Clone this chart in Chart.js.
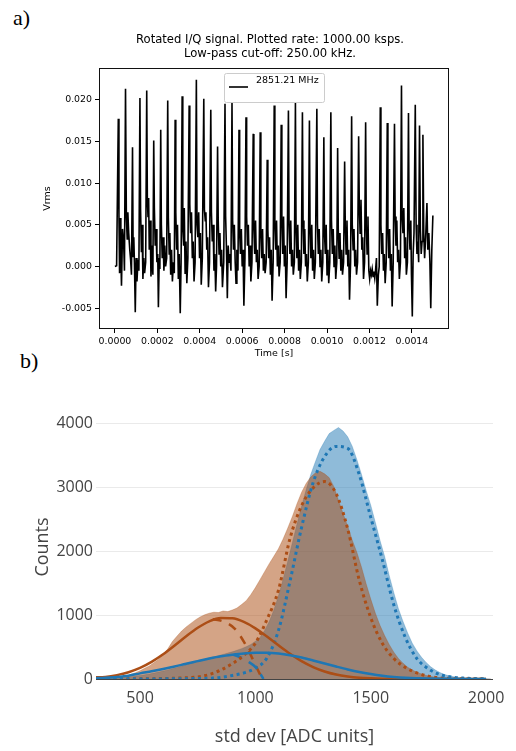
<!DOCTYPE html>
<html><head><meta charset="utf-8">
<script src="https://cdn.jsdelivr.net/npm/chart.js@4.4.1/dist/chart.umd.min.js"></script>
<style>
html,body{margin:0;padding:0;background:#fff;width:516px;height:751px;overflow:hidden;}
canvas{position:absolute;left:0;}
#ca{top:0;} #cb{top:375px;}
.lab{position:absolute;font-family:"Liberation Serif",serif;font-size:22px;color:#000;line-height:1;}
</style></head>
<body>
<div class="lab" style="left:13px;top:7px;">a)</div>
<div class="lab" style="left:20px;top:350px;">b)</div>
<canvas id="ca" width="516" height="375"></canvas>
<canvas id="cb" width="516" height="376"></canvas>
<script>
// ---------- Panel a data ----------
const titleA = ["Rotated I/Q signal. Plotted rate: 1000.00 ksps.", "Low-pass cut-off: 250.00 kHz."];
const legendA = "2851.21 MHz";
const xTitleA = "Time [s]";
const yTitleA = "Vrms";
const xTicksA = [0, 0.0002, 0.0004, 0.0006, 0.0008, 0.0010, 0.0012, 0.0014];
const yTicksA = [-0.005, 0, 0.005, 0.010, 0.015, 0.020];
const sigTimeUs = [0,8,16,19,22,25,28,31,36,41,45,50,54,58,61,65,70,74,78,83,86,89,92,96,100,104,109,113,118,121,125,128,132,136,140,145,150,153,156,159,162,166,170,175,179,183,186,190,194,198,202,205,209,212,216,219,223,227,231,235,239,244,249,252,256,259,263,267,271,276,280,284,287,291,295,299,303,308,312,317,320,324,327,331,335,339,344,350,353,357,361,365,369,373,378,384,387,391,395,399,403,407,412,419,422,426,429,433,437,441,446,452,455,459,463,467,471,475,479,484,487,491,495,499,503,507,513,519,522,526,530,534,538,542,547,552,555,559,563,567,571,575,580,585,588,592,596,600,604,608,613,618,621,625,629,633,637,641,646,652,655,659,663,667,671,675,680,685,688,692,696,700,704,708,713,718,721,725,729,733,737,741,746,751,754,758,762,766,770,774,779,784,787,791,795,799,803,807,812,818,821,825,829,833,837,841,846,851,854,858,862,866,870,874,879,884,887,891,895,899,903,907,912,917,920,924,928,932,936,940,945,952,955,959,963,967,971,975,980,985,988,992,996,1000,1004,1008,1013,1018,1021,1025,1029,1033,1037,1041,1046,1050,1053,1057,1061,1065,1069,1073,1078,1083,1086,1090,1094,1098,1102,1106,1111,1116,1119,1123,1127,1131,1135,1139,1144,1149,1152,1156,1160,1164,1168,1172,1177,1182,1185,1189,1193,1197,1201,1205,1209,1213,1217,1221,1225,1229,1233,1237,1242,1246,1251,1254,1258,1262,1266,1270,1274,1279,1284,1287,1291,1295,1299,1303,1307,1312,1318,1321,1325,1329,1333,1337,1341,1346,1351,1354,1358,1362,1366,1370,1374,1379,1384,1387,1391,1395,1398,1402,1406,1410,1416,1420,1424,1428,1432,1436,1440,1444,1448,1452,1456,1460,1465,1471,1475,1480,1485,1489,1494,1499];
const sigMv = [0,0.1,17.7,6.3,-0.8,5.8,1.2,-2.3,4.5,3.0,-0.5,21.3,5.9,3.3,6.5,4.0,2.0,0.8,-1.0,14.3,1.2,3.5,0.5,-5.5,1.0,-1.8,0.8,-0.5,20.2,6.8,1.7,5.0,-1.5,1.0,-0.8,0.5,21.1,8.0,6.0,8.2,2.0,5.5,-1.2,2.5,-1.0,15.1,7.0,2.5,4.5,0.5,1.5,-4.9,1.0,-0.3,16.4,5.0,1.0,3.5,-0.5,2.5,0.0,1.0,19.9,5.8,1.5,4.0,-1.0,2.0,-1.8,0.5,-0.8,17.6,6.5,2.0,5.0,-1.5,1.5,-5.6,0.5,20.4,4.5,2.5,7.0,-0.8,3.0,-2.0,1.0,19.3,7.5,4.0,6.5,1.0,3.0,-1.8,0.5,22.4,5.0,3.5,6.5,1.0,4.0,-2.2,1.0,20.1,6.8,5.5,6.5,2.0,3.5,-2.5,0.5,18.8,6.5,3.0,5.0,-0.5,1.5,-3.0,0.0,14.4,5.5,1.5,4.0,0.0,2.0,-2.5,0.5,19.5,6.0,2.0,-3.8,2.5,0.5,1.5,-0.5,19.6,5.5,2.0,5.0,0.5,-2.0,2.0,-0.5,16.4,4.0,1.5,4.5,0.0,2.0,-4.7,1.0,17.9,6.0,2.5,5.0,0.0,2.5,-1.8,0.5,15.9,4.5,1.5,5.5,0.5,2.0,-1.5,0.0,16.1,4.0,1.0,4.5,-0.5,1.5,-0.8,0.5,12.8,4.5,1.0,3.5,-1.0,2.0,-4.1,0.5,19.3,5.0,2.0,5.5,0.0,2.5,-1.2,0.5,17.0,5.5,1.5,6.0,0.0,2.5,-3.8,0.5,18.7,5.0,1.5,5.5,0.0,2.0,-1.0,0.5,19.6,4.5,1.0,5.0,-0.5,2.0,-1.5,0.5,18.5,5.5,1.5,4.5,0.0,1.5,-1.8,0.5,17.5,4.5,1.0,5.0,-0.5,2.0,-1.5,0.5,18.9,5.0,1.5,4.5,0.0,2.0,-1.8,0.5,15.5,4.0,1.5,5.0,-1.0,2.0,-2.0,0.5,18.5,5.5,1.5,4.5,0.0,2.5,-1.5,0.5,14.2,4.5,1.0,4.0,-0.5,2.0,-1.0,0.5,12.6,5.0,1.5,5.5,0.0,2.0,-4.0,0.5,18.0,5.0,2.0,4.5,0.0,2.0,-1.0,0.5,15.6,7.5,4.0,8.0,2.0,3.5,-1.5,0.5,17.3,5.0,1.5,6.0,-0.5,-1.5,-0.5,-1.0,-0.3,-1.2,-0.6,-1.4,-0.4,1.0,-4.7,-1.0,0.0,19.1,5.0,1.5,4.0,-0.5,1.5,-2.0,0.5,17.2,4.5,1.0,4.5,-0.5,1.5,-4.8,0.5,17.1,6.0,2.5,5.5,0.5,2.0,-1.5,0.5,21.7,6.0,4.0,7.0,1.0,3.5,-1.0,0.5,18.4,5.0,2.0,5.5,-1.0,-6.0,1.5,4.0,19.4,5.0,1.5,3.0,0.5,16.9,4.5,1.5,3.0,15.8,4.0,1.0,3.5,7.6,2.0,4.0,0.5,-5.0,2.0,6.1];

// ---------- Panel b data ----------
const xTitleB = "std dev [ADC units]";
const yTitleB = "Counts";
const xTicksB = [500, 1000, 1500, 2000];
const yTicksB = [0, 1000, 2000, 3000, 4000];
const histStart = 300, histStep = 20;
const orangeHist = [10,12,16,18,24,30,38,52,72,98,130,168,205,255,305,385,470,585,670,750,815,870,925,970,1005,1030,1045,1040,1065,1055,1080,1110,1165,1225,1320,1430,1555,1680,1805,1920,2040,2190,2360,2540,2740,2920,3060,3160,3225,3250,3210,3150,3010,2800,2590,2390,2170,1980,1750,1490,1250,1030,840,680,540,420,320,245,185,140,105,78,56,40,28,20,14,10,7,5,3,2,1,1,0,0,0];
const blueHist = [5,6,8,10,14,18,22,28,36,45,55,66,78,92,108,125,142,160,180,200,222,245,265,285,305,325,345,365,385,405,425,450,475,505,540,590,650,760,900,1080,1300,1560,1840,2130,2420,2700,2960,3200,3400,3590,3720,3840,3890,3935,3880,3790,3640,3430,3200,2950,2720,2450,2170,1920,1620,1350,1100,900,720,560,440,340,260,190,140,100,70,50,35,25,18,12,8,5,3,2,1];
const curveStart = 300, curveStep = 50;
const orangeSolid = [25,33,61,106,173,267,386,524,669,802,903,955,950,893,793,665,527,395,279,187,118,70,40,21,11,5,2,1,0,0,0,0,0,0,0];
const blueSolid = [12,20,32,52,88,120,155,195,240,280,320,355,380,400,410,410,398,372,335,290,242,195,150,110,78,52,33,20,12,7,4,2,1,0,0];
const orangeDotted = [0,0,1,2,3,5,8,12,20,33,70,140,240,370,560,930,1390,2200,2710,2990,3090,2900,2350,1550,960,560,320,180,95,45,18,7,3,1,0];
const blueDotted = [0,0,0,0,0,1,2,3,5,8,12,25,55,95,170,330,760,1530,2370,3070,3480,3640,3610,3200,2530,1870,1160,650,320,160,68,32,14,6,2];
const orangeDashX = [815,860,910,960,1000,1030];
const orangeDashY = [935,900,790,520,220,0];
const blueDashX = [905,935,965,1005,1035];
const blueDashY = [380,340,280,170,0];

// ---------- helpers ----------
const pts = (xs, ys) => xs.map((x, i) => ({x: x, y: ys[i]}));
const gridPts = (start, step, ys) => ys.map((y, i) => ({x: start + i * step, y: y}));

// ---------- Chart a ----------
const plotA = {
  id: 'plotA',
  afterDraw(chart) {
    const {ctx, chartArea: a} = chart;
    ctx.save();
    ctx.strokeStyle = '#111'; ctx.lineWidth = 1;
    ctx.strokeRect(a.left + 0.5, a.top + 0.5, a.right - a.left - 1, a.bottom - a.top - 1);
    ctx.fillStyle = '#000';
    ctx.font = '11.6px "DejaVu Sans"';
    ctx.textAlign = 'center'; ctx.textBaseline = 'middle';
    ctx.fillText(titleA[0], 270, 40);
    ctx.fillText(titleA[1], 270, 53.5);
    ctx.font = '9.5px "DejaVu Sans"';
    ctx.fillText(xTitleA, (a.left + a.right) / 2, 354);
    ctx.save(); ctx.translate(48, (a.top + a.bottom) / 2); ctx.rotate(-Math.PI / 2);
    ctx.fillText(yTitleA, 0, 0); ctx.restore();
    // legend
    ctx.fillStyle = 'rgba(255,255,255,0.85)';
    ctx.strokeStyle = '#ccc'; ctx.lineWidth = 1;
    ctx.beginPath(); ctx.roundRect(224.5, 73.5, 100, 29, 2); ctx.fill(); ctx.stroke();
    ctx.strokeStyle = '#000'; ctx.lineWidth = 1.6;
    ctx.beginPath(); ctx.moveTo(229, 87); ctx.lineTo(248, 87); ctx.stroke();
    ctx.fillStyle = '#000'; ctx.textAlign = 'left';
    ctx.fillText(legendA, 256, 81);
    ctx.restore();
  }
};
new Chart(document.getElementById('ca'), {
  type: 'line',
  data: { datasets: [{
    data: pts(sigTimeUs.map(t => t * 1e-6), sigMv.map(v => v * 1e-3)),
    borderColor: '#000', borderWidth: 1.6, pointRadius: 0, tension: 0, fill: false
  }]},
  options: {
    responsive: false, animation: false, devicePixelRatio: 1,
    layout: { padding: { top: 68, right: 67, left: 0, bottom: 0 } },
    plugins: { legend: { display: false }, tooltip: { enabled: false } },
    scales: {
      x: {
        type: 'linear', min: -0.000075, max: 0.001575,
        afterBuildTicks: s => { s.ticks = xTicksA.map(v => ({value: v})); },
        afterFit: s => { s.height = 46; },
        ticks: { callback: v => Number(v).toFixed(4), font: {family: 'DejaVu Sans', size: 9.4}, color: '#000', maxRotation: 0, autoSkip: false, padding: 3 },
        grid: { display: true, drawOnChartArea: false, tickLength: 4, tickColor: '#000' },
        border: { display: false }
      },
      y: {
        type: 'linear', min: -0.0075, max: 0.0238,
        afterBuildTicks: s => { s.ticks = yTicksA.map(v => ({value: v})); },
        afterFit: s => { s.width = 99; },
        ticks: { callback: v => Number(v).toFixed(3), font: {family: 'DejaVu Sans', size: 9.4}, color: '#000', autoSkip: false, padding: 3 },
        grid: { display: true, drawOnChartArea: false, tickLength: 4, tickColor: '#000' },
        border: { display: false }
      }
    }
  },
  plugins: [plotA]
});

// ---------- Chart b ----------
const blueC = '#1f77b4', orangeC = 'rgb(172,78,22)';
const plotB = {
  id: 'plotB',
  afterDraw(chart) {
    const {ctx, chartArea: a} = chart;
    ctx.save();
    ctx.strokeStyle = '#444'; ctx.lineWidth = 1.2;
    ctx.beginPath(); ctx.moveTo(a.left, a.bottom + 0.5); ctx.lineTo(a.right, a.bottom + 0.5); ctx.stroke();
    ctx.fillStyle = '#444';
    ctx.font = '18px "Open Sans"';
    ctx.textAlign = 'center'; ctx.textBaseline = 'middle';
    ctx.fillText(xTitleB, (a.left + a.right) / 2, 362);
    ctx.save(); ctx.translate(43, 172); ctx.rotate(-Math.PI / 2);
    ctx.fillText(yTitleB, 0, 0); ctx.restore();
    ctx.restore();
  }
};
const curve = (ys, color, dash, order) => ({
  data: gridPts(curveStart, curveStep, ys), borderColor: color, borderWidth: dash ? 3 : 2.5,
  borderDash: dash || [], pointRadius: 0, cubicInterpolationMode: 'monotone', fill: false, order: order
});
new Chart(document.getElementById('cb'), {
  type: 'line',
  data: { datasets: [
    curve(orangeSolid, orangeC, null, 1),
    curve(blueSolid, blueC, null, 0),
    curve(orangeDotted, orangeC, [3, 3.5], 3),
    curve(blueDotted, blueC, [3, 3.5], 2),
    { data: pts(orangeDashX, orangeDashY), borderColor: orangeC, borderWidth: 2.5, borderDash: [9, 8], pointRadius: 0, cubicInterpolationMode: 'monotone', fill: false, order: 4 },
    { data: pts(blueDashX, blueDashY), borderColor: blueC, borderWidth: 2.5, borderDash: [9, 8], pointRadius: 0, cubicInterpolationMode: 'monotone', fill: false, order: 4 },
    { data: gridPts(histStart, histStep, orangeHist), borderWidth: 0.8, borderColor: 'rgba(169,73,13,0.35)', backgroundColor: 'rgba(169,73,13,0.5)', fill: 'origin', tension: 0, pointRadius: 0, order: 8 },
    { data: gridPts(histStart, histStep, blueHist), borderWidth: 0.8, borderColor: 'rgba(31,119,180,0.35)', backgroundColor: 'rgba(31,119,180,0.5)', fill: 'origin', tension: 0, pointRadius: 0, order: 9 }
  ]},
  options: {
    responsive: false, animation: false, devicePixelRatio: 1,
    layout: { padding: { top: 42, right: 23, left: 0, bottom: 0 } },
    plugins: { legend: { display: false }, tooltip: { enabled: false } },
    scales: {
      x: {
        type: 'linear', min: 309, max: 2030,
        afterBuildTicks: s => { s.ticks = xTicksB.map(v => ({value: v})); },
        afterFit: s => { s.height = 72; },
        ticks: { callback: v => String(v), font: {family: 'Open Sans', size: 16}, color: '#444', maxRotation: 0, autoSkip: false, padding: 2 },
        grid: { display: false },
        border: { display: false }
      },
      y: {
        type: 'linear', min: 0, max: 4100,
        afterBuildTicks: s => { s.ticks = yTicksB.map(v => ({value: v})); },
        afterFit: s => { s.width = 96; },
        ticks: { callback: v => String(v), font: {family: 'Open Sans', size: 16}, color: '#444', autoSkip: false, padding: 3 },
        grid: { display: true, drawTicks: false, color: '#eaeaea', lineWidth: 1 },
        border: { display: false }
      }
    }
  },
  plugins: [plotB]
});
</script>
</body></html>
